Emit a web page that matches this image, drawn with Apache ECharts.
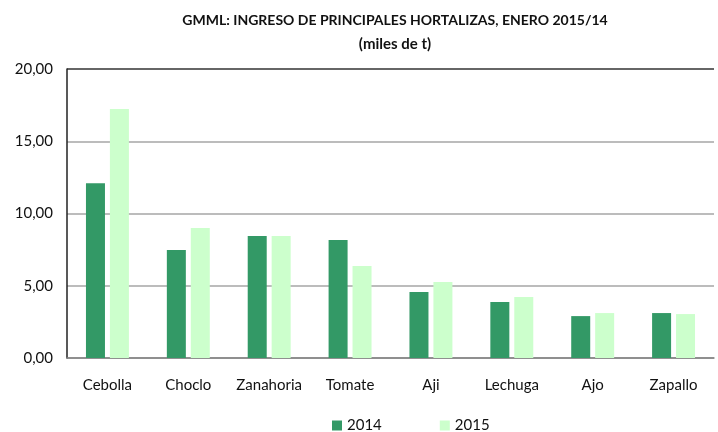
<!DOCTYPE html>
<html>
<head>
<meta charset="utf-8">
<script src="https://cdn.jsdelivr.net/npm/echarts@6/dist/echarts.min.js"></script>
<style>
  html, body { margin: 0; padding: 0; background: #fff; }
  #chart { width: 718px; height: 432px; }
</style>
</head>
<body>
<div id="chart"></div>
<script>
// miles de t, enero
const categories = ['Cebolla', 'Choclo', 'Zanahoria', 'Tomate', 'Aji', 'Lechuga', 'Ajo', 'Zapallo'];
const values2014 = [12.1, 7.47, 8.44, 8.17, 4.57, 3.88, 2.9, 3.11];
const values2015 = [17.23, 9.0, 8.44, 6.37, 5.26, 4.22, 3.11, 3.04];
const yTicks = [0, 5, 10, 15, 20];

const font = 'Lato, "Open Sans", sans-serif';
const titleStyle = { fontFamily: font, fontSize: 14, fontWeight: 'bold', color: '#111' };
const chart = echarts.init(document.getElementById('chart'));

chart.setOption({
    animation: false,
    title: [
        { text: 'GMML: INGRESO DE PRINCIPALES HORTALIZAS, ENERO 2015/14', left: 390, textAlign: 'center', top: 8, textStyle: titleStyle },
        { text: '(miles de t)', left: 390, textAlign: 'center', top: 32, textStyle: { ...titleStyle, fontSize: 15 } },
    ],
    legend: {
        data: ['2014', '2015'],
        top: 413,
        left: 327,
        itemWidth: 10,
        itemHeight: 10,
        itemGap: 58,
        icon: 'rect',
        textStyle: { fontFamily: font, fontSize: 15, color: '#111' },
    },
    grid: { left: 67, right: 4, top: 69, bottom: 74 },
    xAxis: {
        type: 'category',
        data: categories,
        axisLine: { lineStyle: { color: '#888', width: 1.5 } },
        axisTick: { show: false },
        axisLabel: { fontFamily: font, fontSize: 15, color: '#111', margin: 20, interval: 0 },
    },
    yAxis: {
        type: 'value',
        min: yTicks[0],
        max: yTicks[yTicks.length - 1],
        interval: 5,
        axisLine: { show: true, lineStyle: { color: '#222', width: 1.5 } },
        axisTick: { show: false },
        axisLabel: {
            fontFamily: font, fontSize: 15, color: '#111', margin: 14,
            formatter: v => v.toFixed(2).replace('.', ','),
        },
        splitLine: { lineStyle: { color: ['#888', '#a6a6a6', '#a6a6a6', '#a6a6a6', '#333'], width: 1.5 } },
    },
    series: [
        { name: '2014', type: 'bar', data: values2014, barWidth: 19, barGap: '26%', itemStyle: { color: '#339966' } },
        { name: '2015', type: 'bar', data: values2015, barWidth: 19, itemStyle: { color: '#CCFFCC' } },
    ],
});
</script>
</body>
</html>
